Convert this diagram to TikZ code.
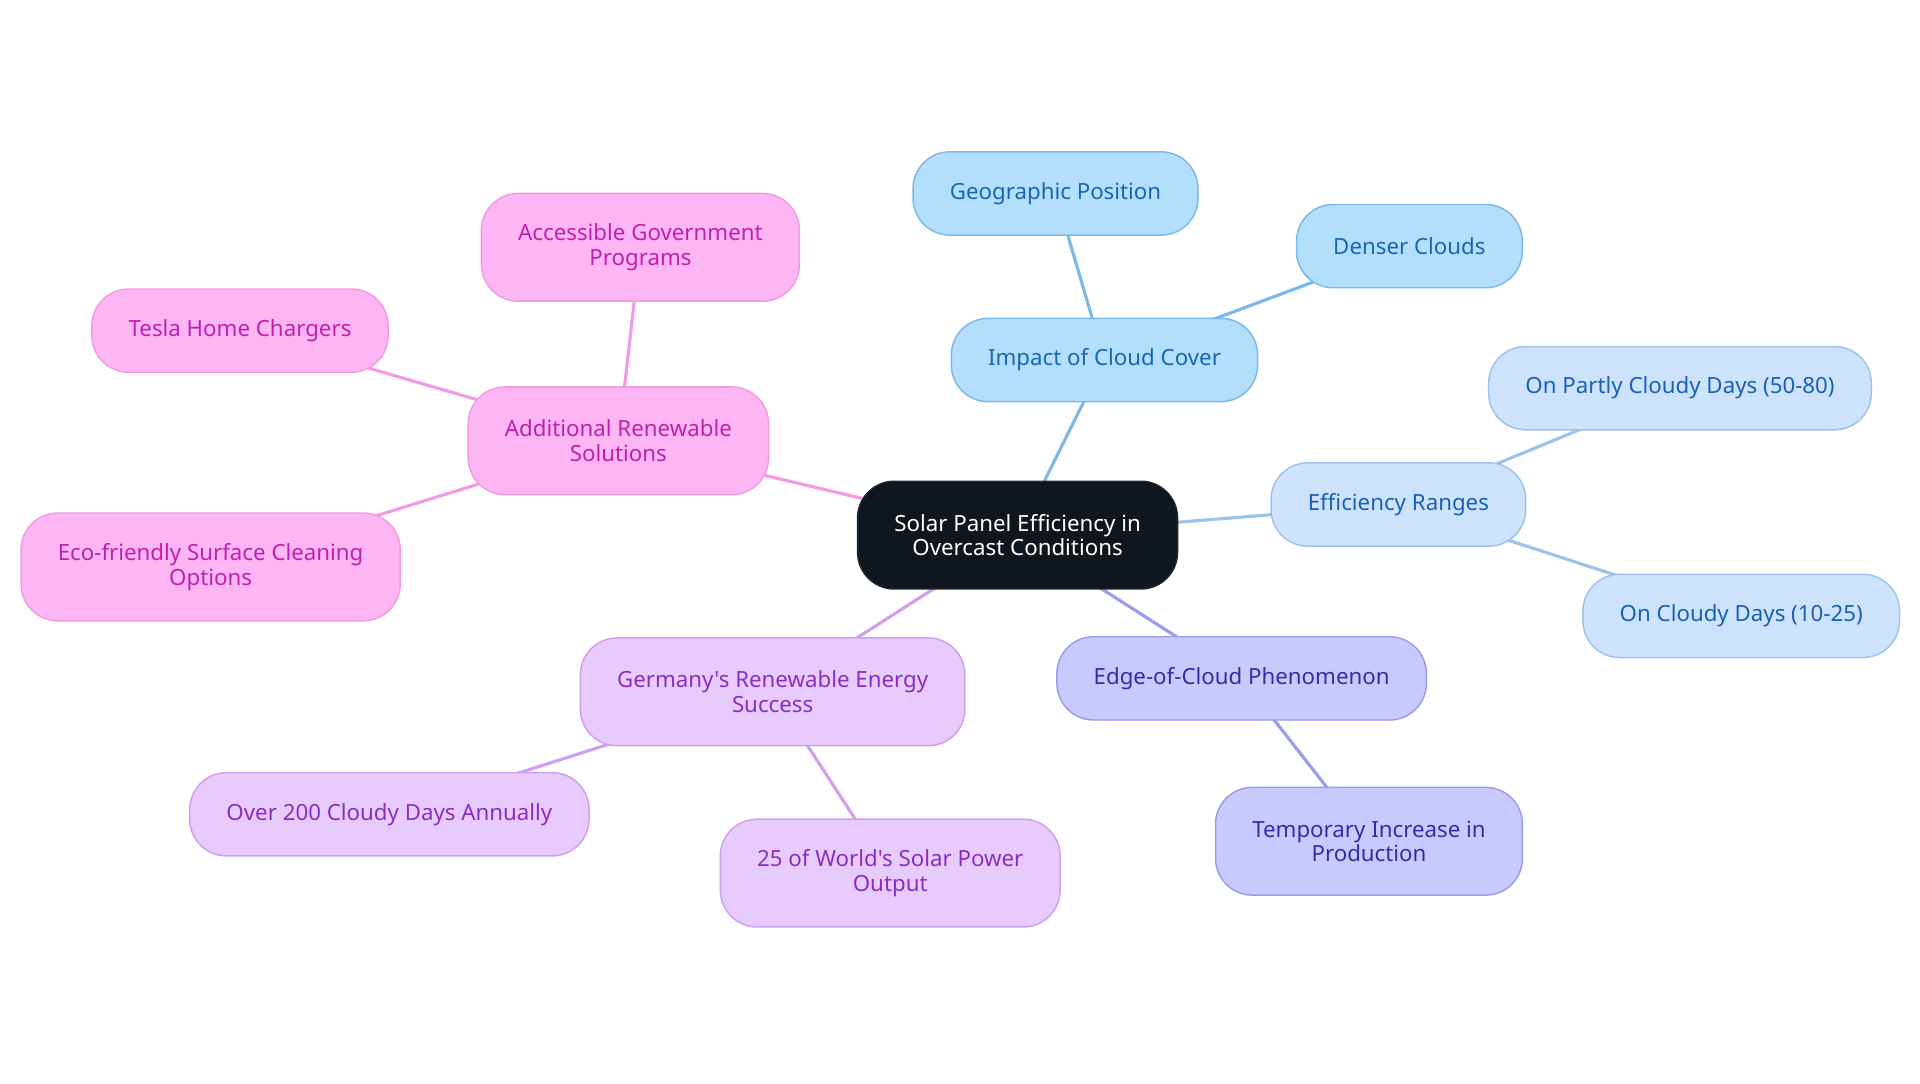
\documentclass[tikz,border=0pt]{standalone}
\usepackage{fontspec}
\setmainfont{Noto Sans}[Ligatures=TeXOff]
\usetikzlibrary{backgrounds}

\definecolor{rootfill}{HTML}{0F161E}
\definecolor{cloudfill}{HTML}{B3DEFC}
\definecolor{cloudline}{HTML}{7CB9E8}
\definecolor{cloudtext}{HTML}{1767B3}
\definecolor{rangefill}{HTML}{CDE3FB}
\definecolor{rangeline}{HTML}{9DC3EB}
\definecolor{rangetext}{HTML}{1A5FB8}
\definecolor{edgefill}{HTML}{C8C9FC}
\definecolor{edgeline}{HTML}{9B9DE9}
\definecolor{edgetext}{HTML}{2F30A8}
\definecolor{gerfill}{HTML}{E8CBFD}
\definecolor{gerline}{HTML}{CFA0EC}
\definecolor{gertext}{HTML}{8A2DC2}
\definecolor{renfill}{HTML}{FDB6F3}
\definecolor{renline}{HTML}{F09CE1}
\definecolor{rentext}{HTML}{C020B0}

\begin{document}
\begin{tikzpicture}[
    x=1pt, y=-1pt,
    box/.style={rounded corners=30pt, line width=1.2pt, minimum height=68pt,
      inner xsep=30pt, align=center, font=\fontsize{18.2}{20}\selectfont},
    tall/.style={minimum height=88pt},
    rootbox/.style={box, tall, fill=rootfill, draw=rootfill!85!gray, text=white},
    cloudbox/.style={box, fill=cloudfill, draw=cloudline, text=cloudtext},
    rangebox/.style={box, fill=rangefill, draw=rangeline, text=rangetext},
    edgebox/.style={box, fill=edgefill, draw=edgeline, text=edgetext},
    gerbox/.style={box, fill=gerfill, draw=gerline, text=gertext},
    renbox/.style={box, fill=renfill, draw=renline, text=rentext},
    link/.style={line width=2.6pt}
  ]

  \useasboundingbox (0,0) rectangle (1568,884.5);

  \node[rootbox] (root) at (831,437) {Solar Panel Efficiency in\\Overcast Conditions};

  % cloud cover
  \node[cloudbox] (impact) at (902,294) {Impact of Cloud Cover};
  \node[cloudbox] (geo) at (862,158) {Geographic Position};
  \node[cloudbox] (denser) at (1151,201) {Denser Clouds};

  % efficiency
  \node[rangebox] (ranges) at (1142,412) {Efficiency Ranges};
  \node[rangebox] (partly) at (1372,317) {On Partly Cloudy Days (50-80)};
  \node[rangebox] (cloudy) at (1422,503) {On Cloudy Days (10-25)};

  % edge of cloud
  \node[edgebox] (edgecloud) at (1014,554) {Edge-of-Cloud Phenomenon};
  \node[edgebox, tall] (increase) at (1118,687) {Temporary Increase in\\Production};

  % germany
  \node[gerbox, tall] (germany) at (631,565) {Germany's Renewable Energy\\Success};
  \node[gerbox] (days) at (318,665) {Over 200 Cloudy Days Annually};
  \node[gerbox, tall] (output) at (727,713) {25 of World's Solar Power\\Output};

  % renewables
  \node[renbox, tall] (additional) at (505,360) {Additional Renewable\\Solutions};
  \node[renbox, tall] (programs) at (523,202) {Accessible Government\\Programs};
  \node[renbox] (tesla) at (196,270) {Tesla Home Chargers};
  \node[renbox, tall] (cleaning) at (172,463) {Eco-friendly Surface Cleaning\\Options};

  \begin{scope}[on background layer]
    \draw[link, cloudline] (root.center) -- (impact.center);
    \draw[link, cloudline] (impact.center) -- (geo.center);
    \draw[link, cloudline] (impact.center) -- (denser.center);
    \draw[link, rangeline] (root.center) -- (ranges.center);
    \draw[link, rangeline] (ranges.center) -- (partly.center);
    \draw[link, rangeline] (ranges.center) -- (cloudy.center);
    \draw[link, edgeline] (root.center) -- (edgecloud.center);
    \draw[link, edgeline] (edgecloud.center) -- (increase.center);
    \draw[link, gerline] (root.center) -- (germany.center);
    \draw[link, gerline] (germany.center) -- (days.center);
    \draw[link, gerline] (germany.center) -- (output.center);
    \draw[link, renline] (root.center) -- (additional.center);
    \draw[link, renline] (additional.center) -- (programs.center);
    \draw[link, renline] (additional.center) -- (tesla.center);
    \draw[link, renline] (additional.center) -- (cleaning.center);
  \end{scope}

\end{tikzpicture}
\end{document}
